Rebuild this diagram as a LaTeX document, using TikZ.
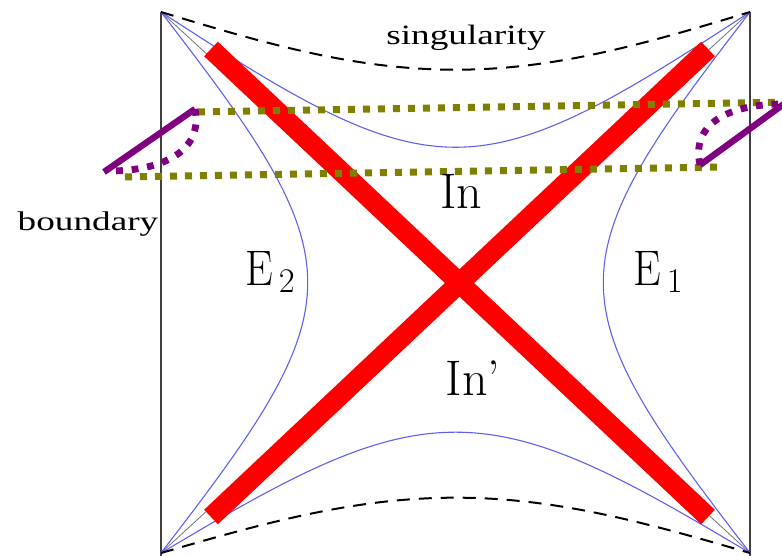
\documentclass[tikz,border=0pt]{standalone}
\usepackage{fontspec}
\newfontfamily\tms{Liberation Serif}
\definecolor{hypblue}{RGB}{95,95,240}
\definecolor{dotolive}{RGB}{128,128,0}
\definecolor{bdpurple}{RGB}{128,0,128}
\begin{document}
\begin{tikzpicture}[x=0.5pt,y=-0.5pt,
  frame/.style={draw=black!75, line width=1pt},
  diag/.style={draw=black!55, line width=0.4pt},
  hyp/.style={draw=hypblue, line width=0.55pt},
  sing/.style={draw=black, line width=1pt, dash pattern=on 6.5pt off 4.5pt},
  redx/.style={draw=red, line width=10pt},
  olivedots/.style={draw=dotolive, line width=3.5pt, dash pattern=on 3.5pt off 4pt},
  purpledots/.style={draw=bdpurple, line width=3.4pt, dash pattern=on 3.4pt off 4.4pt},
  purpleline/.style={draw=bdpurple, line width=3.2pt},
  biglabel/.style={inner sep=0pt, anchor=base, font=\fontsize{25}{30}\selectfont},
  txtlabel/.style={inner sep=0pt, anchor=base}
]
\useasboundingbox (0,0) rectangle (782,556);
% corners
\coordinate (TL) at (161,12);
\coordinate (TR) at (750,12);
\coordinate (BL) at (161,553);
\coordinate (BR) at (750,553);
\coordinate (LB) at (161,556);
\coordinate (RB) at (750,556);
% frame
\draw[frame] (TL) -- (LB);
\draw[frame] (TR) -- (RB);
% diagonals
\draw[diag] (TL) -- (BR);
\draw[diag] (TR) -- (BL);
% hyperbolas (3.2722 = 294.5/90, 3.00556 = 270.5/90)
\draw[hyp] (BR) -- plot[domain=0.3:89.7, samples=180, variable=\t]
  ({455.5+3.2722*(\t+atan(0.173*cot(\t)))}, {282.5-3.00556*(\t-atan(0.173*cot(\t)))}) -- (TR);
\draw[hyp] (BL) -- plot[domain=0.3:89.7, samples=180, variable=\t]
  ({455.5-3.2722*(\t+atan(0.173*cot(\t)))}, {282.5-3.00556*(\t-atan(0.173*cot(\t)))}) -- (TL);
\draw[hyp] (TL) -- plot[domain=0.3:89.7, samples=180, variable=\t]
  ({455.5+3.2722*(\t-atan(0.1716*cot(\t)))}, {282.5-3.00556*(\t+atan(0.1716*cot(\t)))}) -- (TR);
\draw[hyp] (BL) -- plot[domain=0.3:89.7, samples=180, variable=\t]
  ({455.5+3.2722*(\t-atan(0.2155*cot(\t)))}, {282.5+3.00556*(\t+atan(0.2155*cot(\t)))}) -- (BR);
% singularities
\draw[sing] (TL) -- plot[domain=0.3:89.7, samples=180, variable=\t]
  ({455.5+3.2722*(\t-atan(0.505*cot(\t)))}, {282.5-3.00556*(\t+atan(0.505*cot(\t)))}) -- (TR);
\draw[sing] (BL) -- plot[domain=0.3:89.7, samples=180, variable=\t]
  ({455.5+3.2722*(\t-atan(0.52*cot(\t)))}, {282.5+3.00556*(\t+atan(0.52*cot(\t)))}) -- (BR);
% red cross
\coordinate (r1a) at (211,49);
\coordinate (r1b) at (708,517);
\coordinate (r2a) at (708,49);
\coordinate (r2b) at (211,517);
\draw[redx] (r1a) -- (r1b);
\draw[redx] (r2a) -- (r2b);
% olive dotted lines
\coordinate (o1a) at (198,112);
\coordinate (o1b) at (792,102);
\coordinate (o2a) at (125,177);
\coordinate (o2b) at (717,167);
\draw[olivedots] (o1a) -- (o1b);
\draw[olivedots] (o2a) -- (o2b);
% purple boundary pieces
\coordinate (p1a) at (104,172);
\coordinate (p1b) at (195,109);
\coordinate (p1c) at (112,171);
\draw[purpleline] (p1a) -- (p1b);
\draw[purpledots] (p1b) .. controls (203,150) and (165,170) .. (p1c);
\coordinate (p2a) at (788,101);
\coordinate (p2b) at (700,165);
\coordinate (p2c) at (784,104);
\draw[purpleline] (p2a) -- (p2b);
\draw[purpledots] (p2b) .. controls (690,120) and (735,104) .. (p2c);
% labels
\node[txtlabel] (singlab) at (466,45) {\tms\fontsize{14}{17}\selectfont\scalebox{1.33}[1]{singularity}};
\node[txtlabel] (bdlab) at (88,230) {\tms\fontsize{13.5}{16}\selectfont\scalebox{1.38}[1]{boundary}};
\node[biglabel] (inlab) at (461,208) {In};
\node[biglabel] (inplab) at (473,395) {In'};
\node[biglabel, anchor=base west] (e2lab) at (245,285) {\scalebox{0.88}[1]{E}$_{\,2}$};
\node[biglabel, anchor=base west] (e1lab) at (633,285) {\scalebox{0.88}[1]{E}$_{\,1}$};
\end{tikzpicture}
\end{document}
